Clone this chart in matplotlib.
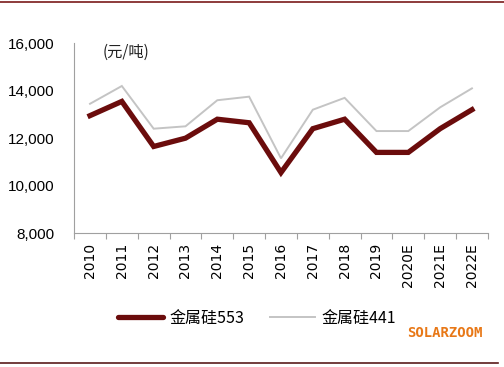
import matplotlib
matplotlib.use("Agg")
import matplotlib.pyplot as plt
from matplotlib.lines import Line2D

plt.rcParams['font.family'] = ['Noto Sans CJK SC', 'DejaVu Sans']

years = ["2010", "2011", "2012", "2013", "2014", "2015", "2016", "2017",
         "2018", "2019", "2020E", "2021E", "2022E"]
si553 = [12950, 13550, 11650, 12000, 12800, 12650, 10550, 12400, 12800,
         11400, 11400, 12400, 13200]
si441 = [13450, 14200, 12400, 12500, 13600, 13750, 11150, 13200, 13700,
         12300, 12300, 13300, 14100]
yticks = [8000, 10000, 12000, 14000, 16000]

fig = plt.figure(figsize=(5.04, 3.67), dpi=100)
ax = fig.add_axes([0.147, 0.365, 0.821, 0.517])

x = list(range(len(years)))
ax.plot(x, si441, color="#C4C4C4", lw=1.4, solid_joinstyle="miter", zorder=2)
ax.plot(x, si553, color="#6B0C0C", lw=3.8, solid_joinstyle="miter", zorder=3)

ax.set_xlim(-0.5, len(years) - 0.5)
ax.set_ylim(8000, 16000)
ax.set_yticks(yticks)
ax.set_yticklabels([f"{v:,}" for v in yticks], fontsize=11, family=['Liberation Sans'])
ax.tick_params(axis='y', length=0, pad=14)

ax.set_xticks(x)
ax.set_xticklabels(years, rotation=90, fontsize=10, family=['DejaVu Sans'])
ax.set_xticks([i - 0.5 for i in range(len(years) + 1)], minor=True)
ax.tick_params(axis='x', which='major', length=0, pad=7)
ax.tick_params(axis='x', which='minor', length=4, color="#A0A0A0", width=0.8)

for s in ['top', 'right']:
    ax.spines[s].set_visible(False)
for s in ['left', 'bottom']:
    ax.spines[s].set_color("#A0A0A0")
    ax.spines[s].set_linewidth(0.8)

ax.text(0.068, 0.955, "(元/吨)", transform=ax.transAxes, fontsize=11,
        ha='left', va='center', color="#222222")

handles = [Line2D([], [], color="#6B0C0C", lw=3.8, solid_capstyle='round'),
           Line2D([], [], color="#C4C4C4", lw=1.4)]
fig.legend(handles, ["金属硅553", "金属硅441"], loc='center',
           bbox_to_anchor=(0.51, 0.132), ncol=2, frameon=False, fontsize=11.5,
           handlelength=2.8, columnspacing=1.6, handletextpad=0.4)

fig.text(0.958, 0.093, "SOLARZOOM", color="#E87817", fontsize=10,
         family=['DejaVu Sans Mono'], fontweight='bold', ha='right', va='center')

fig.add_artist(Line2D([0, 1], [0.994, 0.994], transform=fig.transFigure,
                      color="#7A1A1A", lw=1.2))
fig.add_artist(Line2D([0, 0.988], [0.012, 0.012], transform=fig.transFigure,
                      color="#5A1A1A", lw=1.2))

fig.savefig("out.png", dpi=100, facecolor="white")
